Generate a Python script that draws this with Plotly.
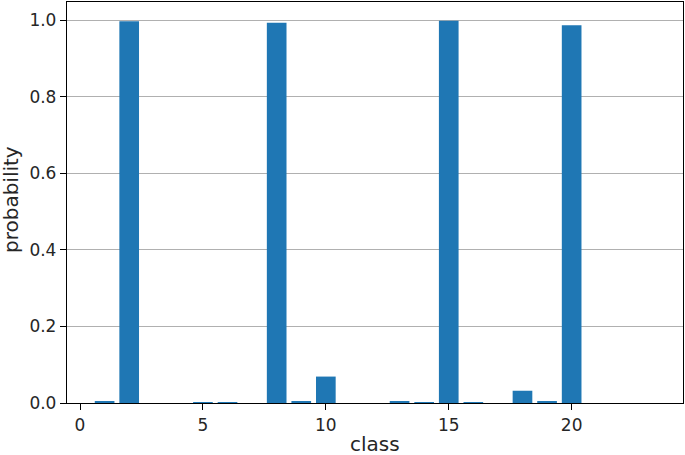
import plotly.graph_objects as go

classes = list(range(24))
probabilities = [0.0, 0.004, 0.997, 0.0, 0.0, 0.002, 0.002, 0.0, 0.993, 0.003,
                 0.069, 0.0, 0.0, 0.003, 0.002, 0.998, 0.002, 0.0, 0.032, 0.004,
                 0.986, 0.0, 0.0, 0.0]
x_ticks = [0, 5, 10, 15, 20]
y_ticks = [0.0, 0.2, 0.4, 0.6, 0.8, 1.0]
y_tick_labels = ["0.0", "0.2", "0.4", "0.6", "0.8", "1.0"]

W, H = 685, 455
ML, MR, MT, MB = 67, 2, 2, 52

fig = go.Figure(go.Bar(x=classes, y=probabilities, width=0.8,
                       marker=dict(color="#1f77b4", line=dict(width=0))))

font = dict(family="DejaVu Sans", size=17, color="#262626")
label_font = dict(family="DejaVu Sans", size=20, color="#262626")
pw, ph = W - ML - MR, H - MT - MB
fig.update_layout(
    width=W, height=H,
    margin=dict(l=ML, r=MR, t=MT, b=MB),
    plot_bgcolor="white", paper_bgcolor="white",
    font=font, showlegend=False,
    xaxis=dict(range=[-0.53, 24.53], tickvals=x_ticks, ticks="outside", ticklen=6,
               tickwidth=1.2, tickcolor="black", showline=True, linecolor="black",
               linewidth=1.3, mirror=True, showgrid=False, zeroline=False,
               automargin=False),
    yaxis=dict(range=[0, 1.047], tickvals=y_ticks, ticktext=y_tick_labels,
               ticks="outside", ticklen=6, tickwidth=1.2, tickcolor="black",
               showline=True, linecolor="black", linewidth=1.3, mirror=True,
               showgrid=True, gridcolor="#b0b0b0", gridwidth=1, zeroline=False,
               automargin=False),
    annotations=[
        dict(text="class", xref="paper", yref="paper",
             x=(375 - ML) / pw, y=(H - MB - 444) / ph,
             xanchor="center", yanchor="middle", showarrow=False, font=label_font),
        dict(text="probability", textangle=-90, xref="paper", yref="paper",
             x=(11 - ML) / pw, y=(H - MB - 200) / ph,
             xanchor="center", yanchor="middle", showarrow=False, font=label_font),
    ],
)
fig.write_html("out.html", config={"displayModeBar": False},
               post_script="document.body.style.margin='0';document.body.style.overflow='hidden';")
